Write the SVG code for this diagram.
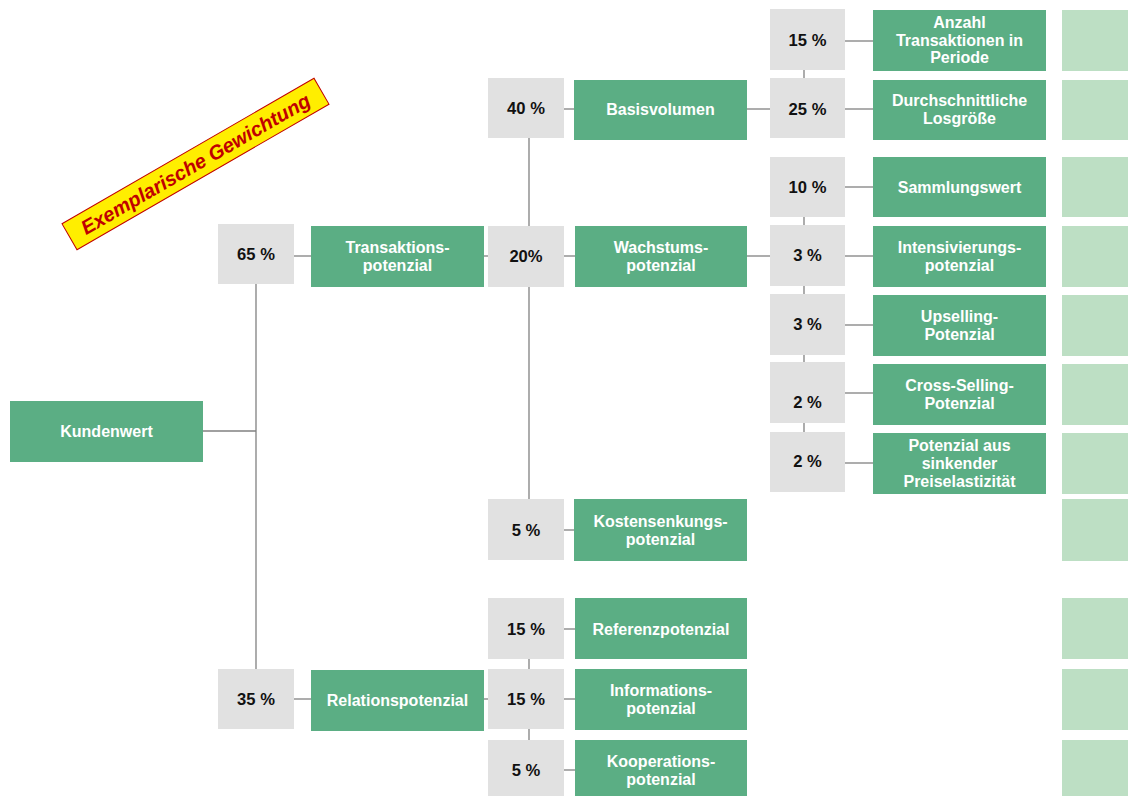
<svg xmlns="http://www.w3.org/2000/svg" width="1128" height="796" viewBox="0 0 1128 796">
  <style>
    .w { fill: #E1E1E1; }
    .g { fill: #5BAE84; }
    .lg { fill: #BDDFC4; }
    .wt { font-family: "Liberation Sans", Arial, sans-serif; font-weight: bold; font-size: 16.6px; fill: #111111; text-anchor: middle; }
    .gt { font-family: "Liberation Sans", Arial, sans-serif; font-weight: bold; font-size: 16px; fill: #FFFFFF; text-anchor: middle; }
    .con line { stroke: #808080; stroke-width: 1.3; fill: none; }
  </style>

  <rect x="0" y="0" width="1128" height="796" fill="#FFFFFF"/>

  <!-- connectors -->
  <g id="connectors" class="con">
    <line x1="203" y1="431" x2="256" y2="431"/>
    <line x1="256" y1="284" x2="256" y2="669"/>
    <line x1="294" y1="256" x2="311" y2="256"/>
    <line x1="484" y1="256" x2="488" y2="256"/>
    <line x1="529" y1="138" x2="529" y2="499"/>
    <line x1="564" y1="109" x2="574" y2="109"/>
    <line x1="564" y1="256" x2="575" y2="256"/>
    <line x1="564" y1="530" x2="574" y2="530"/>
    <line x1="740" y1="109" x2="770" y2="109"/>
    <line x1="747" y1="256" x2="770" y2="256"/>
    <line x1="804" y1="70" x2="804" y2="78"/>
    <line x1="804" y1="217" x2="804" y2="432"/>
    <line x1="845" y1="41" x2="873" y2="41"/>
    <line x1="845" y1="109" x2="873" y2="109"/>
    <line x1="845" y1="187" x2="873" y2="187"/>
    <line x1="845" y1="256" x2="873" y2="256"/>
    <line x1="845" y1="325" x2="873" y2="325"/>
    <line x1="845" y1="393" x2="873" y2="393"/>
    <line x1="845" y1="463" x2="873" y2="463"/>
    <line x1="294" y1="699" x2="311" y2="699"/>
    <line x1="484" y1="699" x2="488" y2="699"/>
    <line x1="529" y1="659" x2="529" y2="669"/>
    <line x1="529" y1="729" x2="529" y2="740"/>
    <line x1="564" y1="629" x2="575" y2="629"/>
    <line x1="564" y1="699" x2="575" y2="699"/>
    <line x1="564" y1="770" x2="575" y2="770"/>
  </g>

  <!-- root -->
  <g id="kundenwert">
    <rect class="g" x="10" y="401" width="193" height="61"/>
    <text class="gt" x="106.5" y="437">Kundenwert</text>
  </g>

  <!-- level 1 -->
  <g id="w65">
    <rect class="w" x="218" y="224" width="76" height="60"/>
    <text class="wt" x="256" y="260">65 %</text>
  </g>
  <g id="transaktionspotenzial">
    <rect class="g" x="311" y="226" width="173" height="61"/>
    <text class="gt" x="397.5" y="253">Transaktions-</text>
    <text class="gt" x="397.5" y="271">potenzial</text>
  </g>
  <g id="w35">
    <rect class="w" x="218" y="669" width="76" height="60"/>
    <text class="wt" x="256" y="705">35 %</text>
  </g>
  <g id="relationspotenzial">
    <rect class="g" x="311" y="670" width="173" height="61"/>
    <text class="gt" x="397.5" y="706">Relationspotenzial</text>
  </g>

  <!-- level 2 -->
  <g id="w40">
    <rect class="w" x="488" y="78" width="76" height="60"/>
    <text class="wt" x="526" y="114">40 %</text>
  </g>
  <g id="basisvolumen">
    <rect class="g" x="574" y="80" width="173" height="60"/>
    <text class="gt" x="660.5" y="115">Basisvolumen</text>
  </g>
  <g id="w20">
    <rect class="w" x="488" y="226" width="76" height="61"/>
    <text class="wt" x="526" y="262">20%</text>
  </g>
  <g id="wachstumspotenzial">
    <rect class="g" x="575" y="226" width="172" height="61"/>
    <text class="gt" x="661" y="253">Wachstums-</text>
    <text class="gt" x="661" y="271">potenzial</text>
  </g>
  <g id="w5a">
    <rect class="w" x="488" y="499" width="76" height="61"/>
    <text class="wt" x="526" y="536">5 %</text>
  </g>
  <g id="kostensenkungspotenzial">
    <rect class="g" x="574" y="499" width="173" height="62"/>
    <text class="gt" x="660.5" y="527">Kostensenkungs-</text>
    <text class="gt" x="660.5" y="545">potenzial</text>
  </g>
  <g id="w15a">
    <rect class="w" x="488" y="598" width="76" height="61"/>
    <text class="wt" x="526" y="635">15 %</text>
  </g>
  <g id="referenzpotenzial">
    <rect class="g" x="575" y="598" width="172" height="61"/>
    <text class="gt" x="661" y="635">Referenzpotenzial</text>
  </g>
  <g id="w15b">
    <rect class="w" x="488" y="669" width="76" height="60"/>
    <text class="wt" x="526" y="705">15 %</text>
  </g>
  <g id="informationspotenzial">
    <rect class="g" x="575" y="669" width="172" height="61"/>
    <text class="gt" x="661" y="696">Informations-</text>
    <text class="gt" x="661" y="714">potenzial</text>
  </g>
  <g id="w5b">
    <rect class="w" x="488" y="740" width="76" height="56"/>
    <text class="wt" x="526" y="776">5 %</text>
  </g>
  <g id="kooperationspotenzial">
    <rect class="g" x="575" y="740" width="172" height="56"/>
    <text class="gt" x="661" y="767">Kooperations-</text>
    <text class="gt" x="661" y="785">potenzial</text>
  </g>

  <!-- level 3 -->
  <g id="w15c">
    <rect class="w" x="770" y="9" width="75" height="61"/>
    <text class="wt" x="807.5" y="46">15 %</text>
  </g>
  <g id="anzahl">
    <rect class="g" x="873" y="10" width="173" height="61"/>
    <text class="gt" x="959.5" y="28">Anzahl</text>
    <text class="gt" x="959.5" y="46">Transaktionen in</text>
    <text class="gt" x="959.5" y="63">Periode</text>
  </g>
  <g id="w25">
    <rect class="w" x="770" y="78" width="75" height="60"/>
    <text class="wt" x="807.5" y="115">25 %</text>
  </g>
  <g id="losgroesse">
    <rect class="g" x="873" y="80" width="173" height="60"/>
    <text class="gt" x="959.5" y="106">Durchschnittliche</text>
    <text class="gt" x="959.5" y="124">Losgröße</text>
  </g>
  <g id="w10">
    <rect class="w" x="770" y="157" width="75" height="60"/>
    <text class="wt" x="807.5" y="193">10 %</text>
  </g>
  <g id="sammlungswert">
    <rect class="g" x="873" y="157" width="173" height="60"/>
    <text class="gt" x="959.5" y="193">Sammlungswert</text>
  </g>
  <g id="w3a">
    <rect class="w" x="770" y="225" width="75" height="61"/>
    <text class="wt" x="807.5" y="261">3 %</text>
  </g>
  <g id="intensivierungspotenzial">
    <rect class="g" x="873" y="226" width="173" height="61"/>
    <text class="gt" x="959.5" y="253">Intensivierungs-</text>
    <text class="gt" x="959.5" y="271">potenzial</text>
  </g>
  <g id="w3b">
    <rect class="w" x="770" y="294" width="75" height="61"/>
    <text class="wt" x="807.5" y="330">3 %</text>
  </g>
  <g id="upselling">
    <rect class="g" x="873" y="295" width="173" height="61"/>
    <text class="gt" x="959.5" y="322">Upselling-</text>
    <text class="gt" x="959.5" y="340">Potenzial</text>
  </g>
  <g id="w2a">
    <rect class="w" x="770" y="362" width="75" height="61"/>
    <text class="wt" x="807.5" y="408">2 %</text>
  </g>
  <g id="crossselling">
    <rect class="g" x="873" y="364" width="173" height="61"/>
    <text class="gt" x="959.5" y="391">Cross-Selling-</text>
    <text class="gt" x="959.5" y="409">Potenzial</text>
  </g>
  <g id="w2b">
    <rect class="w" x="770" y="432" width="75" height="60"/>
    <text class="wt" x="807.5" y="467">2 %</text>
  </g>
  <g id="preiselastizitaet">
    <rect class="g" x="873" y="433" width="173" height="61"/>
    <text class="gt" x="959.5" y="451">Potenzial aus</text>
    <text class="gt" x="959.5" y="469">sinkender</text>
    <text class="gt" x="959.5" y="487">Preiselastizität</text>
  </g>

  <!-- value column -->
  <g id="values">
    <rect class="lg" x="1062" y="10" width="66" height="61"/>
    <rect class="lg" x="1062" y="80" width="66" height="60"/>
    <rect class="lg" x="1062" y="157" width="66" height="60"/>
    <rect class="lg" x="1062" y="226" width="66" height="61"/>
    <rect class="lg" x="1062" y="295" width="66" height="61"/>
    <rect class="lg" x="1062" y="364" width="66" height="61"/>
    <rect class="lg" x="1062" y="433" width="66" height="61"/>
    <rect class="lg" x="1062" y="499" width="66" height="62"/>
    <rect class="lg" x="1062" y="598" width="66" height="61"/>
    <rect class="lg" x="1062" y="669" width="66" height="61"/>
    <rect class="lg" x="1062" y="740" width="66" height="56"/>
  </g>

  <!-- diagonal banner -->
  <g id="banner" transform="translate(195.5,164) rotate(-30)">
    <rect x="-145.5" y="-15" width="291" height="30" fill="#FFEE00" stroke="#C00000" stroke-width="1"/>
    <text x="0" y="7" font-family="'Liberation Sans', Arial, sans-serif" font-weight="bold" font-style="italic" font-size="20" fill="#C00000" text-anchor="middle">Exemplarische Gewichtung</text>
  </g>
</svg>
